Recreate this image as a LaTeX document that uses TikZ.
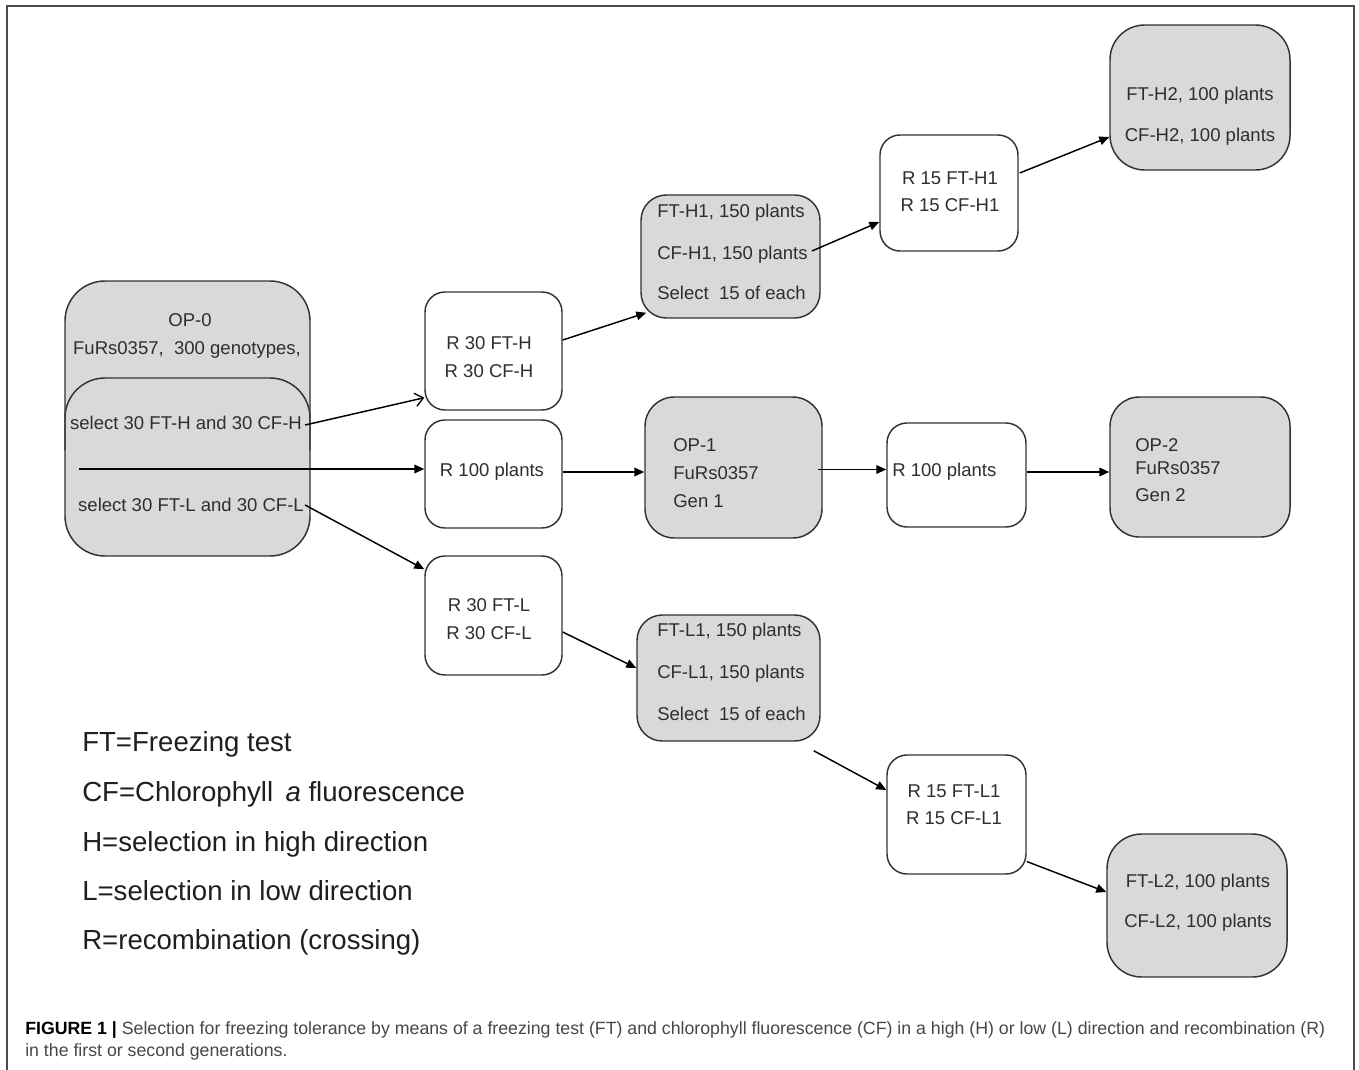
\documentclass[tikz,border=0pt]{standalone}
\usepackage{fontspec}
\setmainfont{Liberation Sans}
\newfontfamily\capfont{Liberation Sans}
\usetikzlibrary{arrows.meta,calc,fit}
\definecolor{boxgray}{HTML}{D9D9D9}
\definecolor{edge}{HTML}{333333}
\definecolor{txt}{HTML}{2E2E2E}
\begin{document}
\begin{tikzpicture}[x=0.75pt,y=-0.75pt,
  rbox/.style={draw=edge,line width=1.1pt,fill=white,rounded corners=15pt,inner sep=0pt},
  gbox/.style={rbox,fill=boxgray},
  lbl/.style={font=\fontsize{13.9pt}{16pt}\selectfont,text=txt,inner sep=0pt,text height=0.72em,text depth=0pt},
  leg/.style={font=\fontsize{20.7pt}{24pt}\selectfont,text=black!88,inner sep=0pt,anchor=west,text height=0.72em,text depth=0pt},
  captext/.style={anchor=west,inner sep=0pt,font=\capfont\fontsize{13.3pt}{15pt}\selectfont,text=black!72,text height=0.72em,text depth=0pt},
  arr/.style={-{Triangle[length=7.5pt,width=6.5pt]},line width=1.1pt,black},
  openarr/.style={-{Straight Barb[length=6pt,width=10pt,line width=1pt]},line width=1.1pt,black}]
\useasboundingbox (0,0) rectangle (1359,1070);
\fill[white] (0,0) rectangle (1359,1070);
% frame
\draw[black!70,line width=1.1pt] (7,1070) -- (7,6) -- (1354,6) -- (1354,1070);

% OP-0
\node[gbox,rounded corners=30pt,fit={(65,281) (310,556)}] (op0) {};
\draw[edge,line width=1.1pt,rounded corners=30pt] (65,450) -- (65,378) -- (310,378) -- (310,450);
\node[lbl] (op0a) at (190,322) {OP-0};
\node[lbl] (op0b) at (187,350) {FuRs0357,\ \ 300 genotypes,};
\node[lbl] (selH) at (186,425) {select 30 FT-H and 30 CF-H};
\node[lbl] (selL) at (191,507) {select 30 FT-L and 30 CF-L};
\coordinate (hs) at (79,469);

% first column of R boxes
\node[rbox,fit={(425,292) (562,410)}] (r30h) {};
\node[lbl] at (489,345) {R 30 FT-H};
\node[lbl] at (489,373) {R 30 CF-H};
\node[rbox,fit={(425,420) (562,528)}] (r100a) {};
\node[lbl] at (492,472) {R 100 plants};
\node[rbox,fit={(425,556) (562,675)}] (r30l) {};
\node[lbl] at (489,607) {R 30 FT-L};
\node[lbl] at (489,635) {R 30 CF-L};

% second column
\node[gbox,rounded corners=19pt,fit={(641,195) (820,318)}] (fth1) {};
\node[lbl,anchor=west] at (657,213) {FT-H1, 150 plants};
\node[lbl,anchor=west] (cfh1) at (657,255) {CF-H1, 150 plants};
\node[lbl,anchor=west] at (657,295) {Select\ \ 15 of each};
\node[gbox,rounded corners=22pt,fit={(645,397) (822,538)}] (op1) {};
\node[lbl,anchor=west] at (673,447) {OP-1};
\node[lbl,anchor=west] at (673,475) {FuRs0357};
\node[lbl,anchor=west] at (673,503) {Gen 1};
\node[gbox,rounded corners=19pt,fit={(637,615) (820,741)}] (ftl1) {};
\node[lbl,anchor=west] at (657,632) {FT-L1, 150 plants};
\node[lbl,anchor=west] at (657,674) {CF-L1, 150 plants};
\node[lbl,anchor=west] at (657,716) {Select\ \ 15 of each};

% third column
\node[rbox,fit={(880,135) (1018,251)}] (r15h1) {};
\node[lbl] at (950,180) {R 15 FT-H1};
\node[lbl] at (950,207) {R 15 CF-H1};
\node[rbox,fit={(887,423) (1026,527)}] (r100b) {};
\node[lbl,anchor=west] at (892,472) {R 100 plants};
\node[rbox,fit={(887,755) (1026,874)}] (r15l1) {};
\node[lbl] at (954,793) {R 15 FT-L1};
\node[lbl] at (954,820) {R 15 CF-L1};

% fourth column
\node[gbox,rounded corners=26pt,fit={(1110,25) (1290,170)}] (fth2) {};
\node[lbl] at (1200,96) {FT-H2, 100 plants};
\node[lbl] at (1200,137) {CF-H2, 100 plants};
\node[gbox,rounded corners=22pt,fit={(1110,397) (1290,537)}] (op2) {};
\node[lbl,anchor=west] at (1135,447) {OP-2};
\node[lbl,anchor=west] at (1135,470) {FuRs0357};
\node[lbl,anchor=west] at (1135,497) {Gen 2};
\node[gbox,rounded corners=26pt,fit={(1107,834) (1287,977)}] (ftl2) {};
\node[lbl] at (1198,883) {FT-L2, 100 plants};
\node[lbl] at (1198,923) {CF-L2, 100 plants};

% connectors
\draw[openarr] ($(selH.east)+(3,0)$) -- ($(r30h.south west)+(0,-13)$);
\draw[arr] (hs) -- (hs -| r100a.west);
\draw[arr] ($(selL.east)+(1,-2)$) -- ($(r30l.north west)+(0,14)$);
\draw[arr] ($(r30h.east)+(0,-11)$) -- ($(fth1.south west)+(6,-6)$);
\draw[arr] ($(r100a.east)+(0,-2)$) coordinate (p5) -- (p5 -| op1.west);
\draw[arr] ($(r30l.east)+(0,16.5)$) -- ($(ftl1.west)+(0,-10)$);
\draw[arr] ($(cfh1.east)+(4,-4)$) -- ($(r15h1.west)+(0,29)$);
\draw[arr] ($(op1.east)+(-5,2)$) coordinate (p8) -- (p8 -| r100b.west);
\draw[arr] ($(r100b.east)+(0,-3)$) coordinate (p9) -- (p9 -| op2.west);
\draw[arr] ($(r15h1.east)+(1,-20)$) -- ($(fth2.west)+(0,39.5)$);
\draw[arr] ($(ftl1.south east)+(-7,9)$) -- ($(r15l1.west)+(0,-24.5)$);
\draw[arr] ($(r15l1.east)+(0,47)$) -- ($(ftl2.west)+(0,-13.5)$);

% legend
\node[leg] (l1) at (82,747) {FT=Freezing test};
\node[leg] (l2) at (82,797) {CF=Chlorophyll\ \,\textit{a} fluorescence};
\node[leg] (l3) at (82,847) {H=selection in high direction};
\node[leg] (l4) at (82,896) {L=selection in low direction};
\node[leg] (l5) at (82,945) {R=recombination (crossing)};

% caption
\node[captext] (cap1) at (25,1030)
  {\textcolor{black}{\textbf{FIGURE 1 |}} Selection for freezing tolerance by means of a freezing test (FT) and chlorophyll fluorescence (CF) in a high (H) or low (L) direction and recombination (R)};
\node[captext] (cap2) at (25,1052) {in the first or second generations.};
\end{tikzpicture}
\end{document}
